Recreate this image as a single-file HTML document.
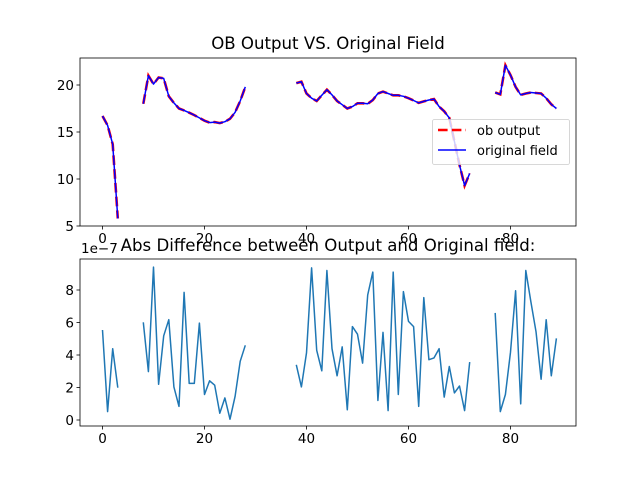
<!DOCTYPE html>
<html><head><meta charset="utf-8"><style>
body{margin:0;background:#fff;}
svg{display:block;font-family:"DejaVu Sans","Liberation Sans",sans-serif;}
</style></head><body>
<svg id="chart" width="640" height="480" viewBox="0 0 640 480"></svg>
<script>
const xs = [];
for (let i = 0; i <= 89; i++) xs.push(i);
const outputVals = [16.7,15.7,13.7,5.8,null,null,null,null,
18.0,21.0,20.1,20.8,20.7,18.8,18.1,17.5,17.3,17.05,16.8,16.5,16.2,16.0,16.05,15.95,16.1,16.4,17.1,18.3,19.8,
null,null,null,null,null,null,null,null,null,
20.2,20.35,19.1,18.6,18.3,18.9,19.5,18.95,18.3,17.9,17.5,17.7,18.05,18.05,18.0,18.4,19.1,19.3,19.1,18.9,18.9,18.8,18.6,18.35,18.1,18.25,18.4,18.5,17.7,17.2,16.5,14.0,11.5,9.3,10.6,
null,null,null,null,
19.2,19.0,22.1,21.05,19.8,18.95,19.1,19.2,19.15,19.1,18.6,17.95,17.5];
const fieldVals = outputVals.slice();
const diffVals = [5.54,0.52,4.39,1.99,null,null,null,null,
6.01,2.98,9.41,2.2,5.18,6.17,2.04,0.84,7.85,2.25,2.25,5.96,1.57,2.41,2.14,0.42,1.36,0.05,1.46,3.61,4.6,
null,null,null,null,null,null,null,null,null,
3.4,2.04,4.13,9.36,4.29,3.03,9.2,4.39,2.72,4.5,0.63,5.75,5.28,3.5,7.69,9.1,1.2,5.39,0.58,9.1,1.57,7.9,6.07,5.75,0.84,7.53,3.71,3.82,4.39,1.41,3.29,1.67,2.09,0.58,3.56,
null,null,null,null,
6.59,0.52,1.57,4.18,7.95,0.99,9.2,7.27,5.44,2.51,6.17,2.72,5.02];
const xTicks = [0,20,40,60,80];
const topYTicks = [5,10,15,20];
const botYTicks = [0,2,4,6,8];

const NS = "http://www.w3.org/2000/svg";
const svg = document.getElementById('chart');
function el(tag, attrs, parent){const e=document.createElementNS(NS,tag);for(const k in attrs)e.setAttribute(k,attrs[k]);(parent||svg).appendChild(e);return e;}
const L=80,R=576;
const xScale = v => 102.5 + v*5.1;
const topY = v => 226 - (v-5)*9.4;
const botY = v => 420 - v*16.25;

function path(vals, ys){
  let d="", pen=false;
  vals.forEach((v,i)=>{ if(v==null){pen=false;return;} d += (pen?"L":"M")+xScale(xs[i]).toFixed(1)+","+ys(v).toFixed(1); pen=true;});
  return d;
}
function axes(top,bot,yticks,ys,name){
  const g=el('g',{});
  
  
  xTicks.forEach(t=>{
    const x=xScale(t);
    el('line',{x1:x,x2:x,y1:bot,y2:bot+3.5,stroke:'#000','stroke-width':0.8},g);
    const tx=el('text',{x:x,y:bot+17,'font-size':'13.5','text-anchor':'middle'},g);
    
    
    tx.textContent=t;
  });
  yticks.forEach(t=>{
    const y=ys(t);
    el('line',{x1:L-3.5,x2:L,y1:y,y2:y,stroke:'#000','stroke-width':0.8},g);
    const tx=el('text',{x:L-6,y:y+5,'font-size':'13.5','text-anchor':'end'},g);
    
    
    tx.textContent=t;
  });
  return g;
}
// top
axes(58,226,topYTicks,topY,'top-axes');
const p1=el('path',{d:path(outputVals,topY),fill:'none',stroke:'#f00','stroke-width':2.6,'stroke-dasharray':'9.6,4.2'});


const p2=el('path',{d:path(fieldVals,topY),fill:'none',stroke:'#00f','stroke-width':1.5,'stroke-linejoin':'round'});


el('rect',{x:L,y:58,width:R-L,height:168,fill:'none',stroke:'#000','stroke-width':0.8});
// legend
const lg=el('g',{});


el('rect',{x:432.5,y:119.5,width:137,height:45,rx:2,fill:'#fff','fill-opacity':0.8,stroke:'#ccc','stroke-width':0.8},lg);
el('line',{x1:438,x2:466,y1:130,y2:130,stroke:'#f00','stroke-width':2.6,'stroke-dasharray':'9.6,4.2'},lg);
el('line',{x1:438,x2:466,y1:150,y2:150,stroke:'#00f','stroke-width':1.5},lg);
const t1=el('text',{x:477,y:135,'font-size':'13'},lg);t1.textContent='ob output';
const t2=el('text',{x:477,y:155,'font-size':'13'},lg);t2.textContent='original field';
const ti=el('text',{x:328,y:49,'font-size':'16.6','text-anchor':'middle'});


ti.textContent='OB Output VS. Original Field';
// bottom
axes(259,426,botYTicks,botY,'bottom-axes');
const p3=el('path',{d:path(diffVals,botY),fill:'none',stroke:'#1f77b4','stroke-width':1.5,'stroke-linejoin':'round'});


el('rect',{x:L,y:259,width:R-L,height:167,fill:'none',stroke:'#000','stroke-width':0.8});
const ti2=el('text',{x:328,y:251,'font-size':'16.6','text-anchor':'middle'});


ti2.textContent='Abs Difference between Output and Original field:';
const ex=el('text',{x:81,y:253,'font-size':'13.5'});


ex.textContent='1e\u22127';
</script>
</body></html>
